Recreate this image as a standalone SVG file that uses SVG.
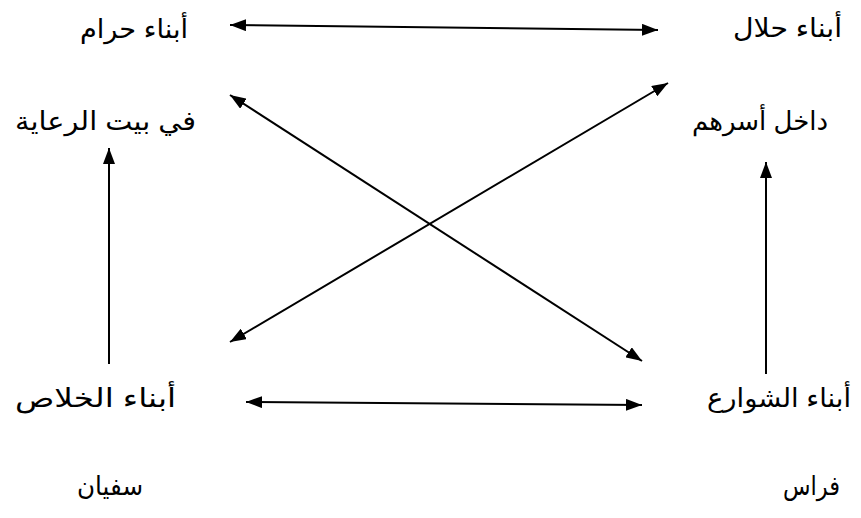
<svg xmlns="http://www.w3.org/2000/svg" width="861" height="518" viewBox="0 0 861 518">
<defs>
<style>
text{font-family:"Liberation Sans","DejaVu Sans",sans-serif;font-size:26px;fill:#000;text-anchor:end}
.c line{stroke:#000;stroke-width:2;fill:none}
</style>
<marker id="ah" viewBox="0 0 16 12" refX="16" refY="6" markerWidth="16" markerHeight="12" markerUnits="userSpaceOnUse" orient="auto-start-reverse"><path d="M0,0 L16,6 L0,12 Z" fill="#000"/></marker>
</defs>
<rect width="861" height="518" fill="#fff"/>
<g id="n1"><text x="188" y="38" textLength="108" lengthAdjust="spacingAndGlyphs">أبناء حرام</text></g>
<g id="n2"><text x="842" y="37" textLength="109" lengthAdjust="spacingAndGlyphs">أبناء حلال</text></g>
<g id="n3"><text x="196" y="130" textLength="181" lengthAdjust="spacingAndGlyphs">في بيت الرعاية</text></g>
<g id="n4"><text x="828" y="130" textLength="136" lengthAdjust="spacingAndGlyphs">داخل أسرهم</text></g>
<g id="n5"><text x="176" y="407" textLength="161" lengthAdjust="spacingAndGlyphs">أبناء الخلاص</text></g>
<g id="n6"><text x="851" y="407" textLength="144" lengthAdjust="spacingAndGlyphs">أبناء الشوارع</text></g>
<g id="n7"><text x="143" y="495" textLength="66" lengthAdjust="spacingAndGlyphs">سفيان</text></g>
<g id="n8"><text x="840" y="495" textLength="57" lengthAdjust="spacingAndGlyphs">فراس</text></g>
<g class="c" id="connectors">
<line x1="230" y1="25" x2="658" y2="30" marker-start="url(#ah)" marker-end="url(#ah)"/>
<line x1="230" y1="95" x2="642" y2="361" marker-start="url(#ah)" marker-end="url(#ah)"/>
<line x1="668" y1="83" x2="230" y2="342" marker-start="url(#ah)" marker-end="url(#ah)"/>
<line x1="246" y1="402" x2="642" y2="405" marker-start="url(#ah)" marker-end="url(#ah)"/>
<line x1="109" y1="364" x2="109" y2="148" marker-end="url(#ah)"/>
<line x1="766" y1="374" x2="766" y2="162" marker-end="url(#ah)"/>
</g>
</svg>
